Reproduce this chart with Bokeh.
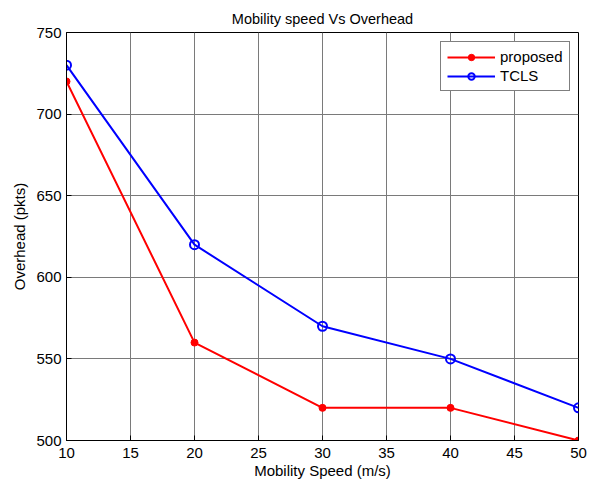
from bokeh.plotting import figure
from bokeh.models import Range1d, FixedTicker, Legend, LegendItem
from bokeh.embed import file_html
from bokeh.resources import INLINE

speed = [10, 20, 30, 40, 50]
proposed = [720, 560, 520, 520, 500]
tcls = [730, 620, 570, 550, 520]
x_ticks = [10, 15, 20, 25, 30, 35, 40, 45, 50]
y_ticks = [500, 550, 600, 650, 700, 750]

FONT = "Liberation Sans"

p = figure(width=593, height=485, output_backend="svg", toolbar_location=None,
           x_range=Range1d(10, 50), y_range=Range1d(500, 750),
           min_border_left=66, min_border_right=15, min_border_top=32, min_border_bottom=45)
p.background_fill_color = "white"
p.border_fill_color = "white"
p.outline_line_color = "black"
p.outline_line_width = 1

p.title.text = "Mobility speed Vs Overhead"
p.title.align = "center"
p.title.text_font = FONT
p.title.text_font_size = "14.5px"
p.title.text_font_style = "normal"
p.title.text_color = "black"
p.title.standoff = 11

for ax in (p.xaxis, p.yaxis):
    ax.axis_line_color = "black"
    ax.axis_line_width = 1
    ax.major_tick_in = 5
    ax.major_tick_out = 0
    ax.minor_tick_line_color = None
    ax.major_label_text_font = FONT
    ax.major_label_text_font_size = "15px"
    ax.major_label_text_color = "black"
    ax.axis_label_text_font = FONT
    ax.axis_label_text_font_size = "15px"
    ax.axis_label_text_font_style = "normal"
    ax.axis_label_text_color = "black"

p.xaxis.ticker = FixedTicker(ticks=x_ticks)
p.yaxis.ticker = FixedTicker(ticks=y_ticks)
p.xaxis.axis_label = "Mobility Speed (m/s)"
p.yaxis.axis_label = "Overhead (pkts)"
p.xaxis.major_label_standoff = 7
p.yaxis.major_label_standoff = 5
p.xaxis.axis_label_standoff = 1
p.yaxis.axis_label_standoff = 5

p.grid.grid_line_color = "#7a7a7a"
p.grid.grid_line_width = 1

l1 = p.line(speed, proposed, line_color="red", line_width=2)
s1 = p.scatter(speed, proposed, marker="circle", size=7, fill_color="red", line_color="red")
l2 = p.line(speed, tcls, line_color="blue", line_width=2)
s2 = p.scatter(speed, tcls, marker="circle", size=9, fill_color=None, line_color="blue", line_width=2)

legend = Legend(items=[LegendItem(label="proposed", renderers=[l1, s1]),
                       LegendItem(label="TCLS", renderers=[l2, s2])],
                location=(374, 349))
legend.label_text_font = FONT
legend.label_text_font_size = "15px"
legend.label_text_color = "black"
legend.glyph_width = 48
legend.glyph_height = 16
legend.spacing = 2
legend.padding = 6
legend.label_standoff = 5
legend.border_line_color = "black"
legend.border_line_width = 1
legend.background_fill_color = "white"
legend.background_fill_alpha = 1
p.add_layout(legend, "center")

open("out.html", "w").write(file_html(p, INLINE))
